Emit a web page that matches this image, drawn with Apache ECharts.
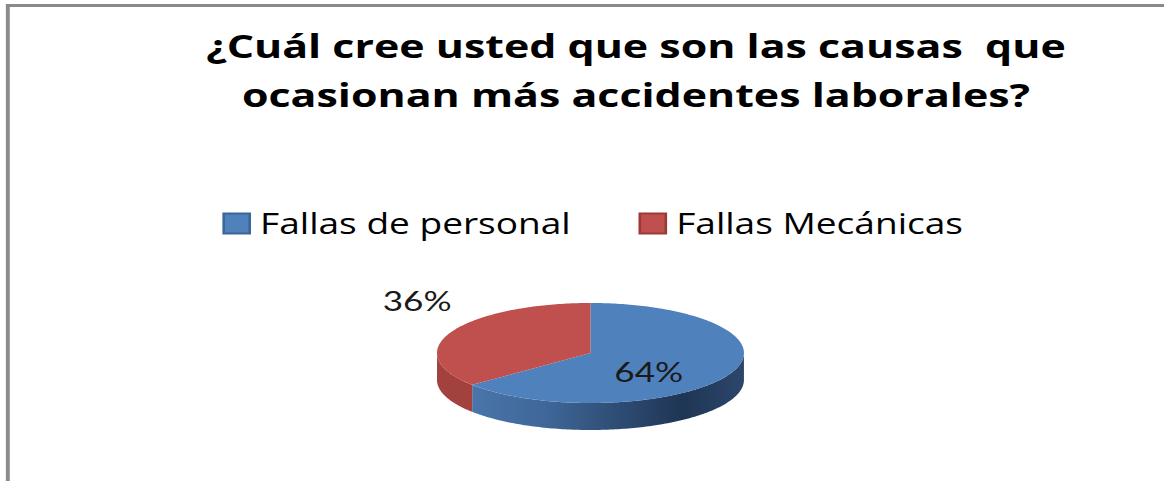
<!DOCTYPE html>
<html>
<head>
<meta charset="utf-8">
<script src="https://cdn.jsdelivr.net/npm/echarts@6/dist/echarts.min.js"></script>
<style>
  html, body { margin: 0; padding: 0; background: #fff; overflow: hidden; }
  /* the original picture is stretched sideways, so the chart is drawn narrow and widened */
  #chart { width: 895px; height: 481px; transform: scaleX(1.3006); transform-origin: 0 0; }
</style>
</head>
<body>
<div id="chart"></div>
<script>
const titleLines = ['¿Cuál cree usted que son las causas  que', 'ocasionan más accidentes laborales?']
const categories = ['Fallas de personal', 'Fallas Mecánicas']
const values = [64, 36]

const colors = ['#4f81bd', '#c0504d']
const borderColors = ['#3a6797', '#9a3b38']
const total = values.reduce((a, b) => a + b, 0)

// flat 3d pie geometry
const cx = 454, cy = 353, rx = 118, ry = 50, depth = 27

const pt = (deg, dy) => {
  const r = deg * Math.PI / 180
  return [cx + rx * Math.sin(r), cy - ry * Math.cos(r) + (dy || 0)]
}

const arc = (from, to, dy) => {
  let pts = []
  let steps = Math.max(2, Math.ceil(Math.abs(to - from)))
  for (let i = 0; i <= steps; i++) {
    pts.push(pt(from + (to - from) * i / steps, dy))
  }
  return pts
}

const wallFill = (index) => {
  if (index === 0) {
    return {
      type: 'linear', x: cx - rx, y: 0, x2: cx + rx, y2: 0, global: true,
      colorStops: [
        { offset: 0, color: '#4f7cb3' },
        { offset: 0.35, color: '#3f6798' },
        { offset: 0.8, color: '#1f3554' },
        { offset: 1, color: '#2c476b' },
      ]
    }
  }
  return '#a3413e'
}

const renderSlice = (index) => (params, api) => {
  let value = api.value(0)
  let start = 0
  for (let i = 0; i < index; i++) start += values[i] / total * 360
  let end = start + value / total * 360
  let children = []

  let lo = Math.max(start, 90)
  let hi = Math.min(end, 270)
  if (lo < hi) {
    children.push({
      type: 'polygon',
      shape: { points: arc(lo, hi, 0).concat(arc(hi, lo, depth)) },
      style: { fill: wallFill(index) }
    })
  }
  children.push({
    type: 'polygon',
    shape: { points: [[cx, cy]].concat(arc(start, end, 0)) },
    style: { fill: colors[index] }
  })

  let share = value / total
  let mid = (start + end) / 2
  let label = Math.round(share * 100) + '%'
  let pos, align, vAlign
  let p = pt(mid, 0)
  if (share >= 0.5) {
    pos = [cx + (p[0] - cx) * 0.42, cy + (p[1] - cy) * 0.45 + 9]
    align = 'center'
    vAlign = 'middle'
  } else {
    pos = [p[0], p[1] - 18]
    align = 'right'
    vAlign = 'bottom'
  }
  children.push({
    type: 'text',
    x: pos[0],
    y: pos[1],
    z2: 10,
    style: {
      text: label,
      fill: '#1a1a1a',
      fontSize: 27,
      fontFamily: 'Lato',
      align: align,
      verticalAlign: vAlign
    }
  })
  return { type: 'group', children: children }
}

const option = {
  backgroundColor: '#fff',
  animation: false,
  graphic: [{
    type: 'rect',
    shape: { x: 6, y: 5.5, width: 2000, height: 1000 },
    style: { fill: 'none', stroke: '#8a8a8a', lineWidth: 3 },
    silent: true
  }],
  title: {
    text: titleLines.join('\n'),
    left: 489,
    top: 21,
    textAlign: 'center',
    padding: 0,
    textStyle: {
      fontFamily: 'Open Sans',
      fontWeight: 'bold',
      fontSize: 33,
      lineHeight: 49,
      color: '#000'
    }
  },
  legend: {
    left: 171,
    top: 209,
    padding: 0,
    itemWidth: 20,
    itemHeight: 20,
    itemGap: 52,
    icon: 'rect',
    data: categories.map((name, i) => ({
      name: name,
      itemStyle: { color: colors[i], borderColor: borderColors[i], borderWidth: 2 }
    })),
    textStyle: {
      fontFamily: 'Open Sans',
      fontSize: 28.5,
      color: '#000',
      padding: [0, 0, 0, 3]
    }
  },
  series: categories.map((name, i) => ({
    type: 'custom',
    name: name,
    coordinateSystem: 'none',
    itemStyle: { color: colors[i] },
    renderItem: renderSlice(i),
    data: [values[i]]
  }))
}

const chart = echarts.init(document.getElementById('chart'), null, { renderer: 'svg' })
chart.setOption(option)
</script>
</body>
</html>
